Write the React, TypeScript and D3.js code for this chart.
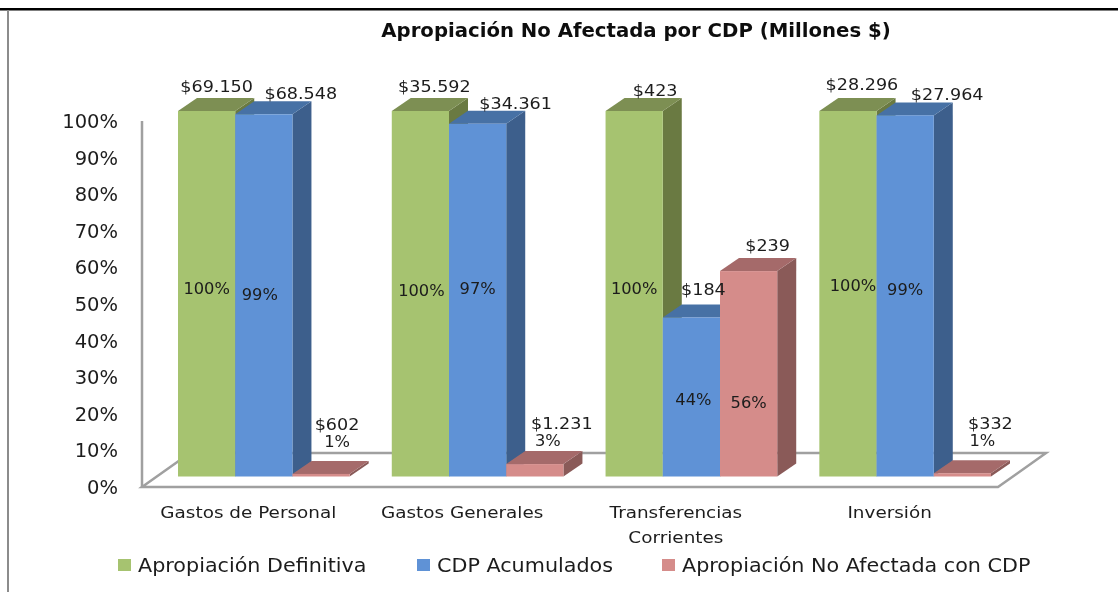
import React from "react";
import * as d3 from "d3";

const categories = ["Gastos de Personal", "Gastos Generales", "Transferencias Corrientes", "Inversión"];
const seriesNames = ["Apropiación Definitiva", "CDP Acumulados", "Apropiación No Afectada con CDP"];
const definitiva = [100, 100, 100, 100];
const acumulados = [99.1, 96.5, 43.5, 98.8];
const noAfectada = [0.7, 3.4, 56.2, 0.9];
const moneyLabels = [
  ["$69.150", "$68.548", "$602"],
  ["$35.592", "$34.361", "$1.231"],
  ["$423", "$184", "$239"],
  ["$28.296", "$27.964", "$332"],
];
const percentLabels = [
  ["100%", "99%", "1%"],
  ["100%", "97%", "3%"],
  ["100%", "44%", "56%"],
  ["100%", "99%", "1%"],
];
const tickValues = [0, 10, 20, 30, 40, 50, 60, 70, 80, 90, 100];

const width = 1118;
const height = 592;
const font = "'DejaVu Sans', sans-serif";
const ink = "#1c1c1c";

// face, top, side
const colors = [
  ["#a6c36f", "#7d8f52", "#6b7a42"],
  ["#5f92d6", "#4671a5", "#3c5f8c"],
  ["#d58c8a", "#a56b6b", "#8a5a59"],
];
const depthX = 19;
const depthY = 13;

const series = [definitiva, acumulados, noAfectada];

const x0 = d3.scaleBand<number>().domain(d3.range(categories.length)).range([178, 991]).paddingInner(0.197);
const x1 = d3.scaleBand<number>().domain(d3.range(series.length)).range([0, x0.bandwidth()]);
const y = d3.scaleLinear().domain([0, 100]).range([476.5, 111]);
const yAxis = d3.scaleLinear().domain([0, 100]).range([487, 121]);

// the labels were dragged by hand in the original: x shift from the bar centre, and baseline
const moneyShift = [
  [10, 37, 16],
  [14, 38, 27],
  [21, 12, 19],
  [14, 42, 28],
];
const moneyY = [
  [92, 99, 430],
  [92, 109, 429],
  [96, 295, 251],
  [90, 100, 429],
];
const percentShift = [
  [0, -4, 16],
  [1, 0, 13],
  [0, 2, 0],
  [5, 0, 20],
];
const percentY = [
  [294, 300, 447],
  [296, 294, 446],
  [294, 405, 408],
  [291, 295, 446],
];

// the source picture was stretched sideways, so text gets a small x scale
function Label({ x, y: ty, size, stretch, anchor, children }: any) {
  return (
    <text
      transform={`translate(${x},${ty}) scale(${stretch},1)`}
      textAnchor={anchor}
      fontSize={size}
      fill={ink}
    >
      {children}
    </text>
  );
}

function Bar({ g, s }: { g: number; s: number }) {
  const left = x0(g)! + x1(s)!;
  const w = x1.bandwidth();
  const top = y(series[s][g]);
  const bottom = y(0);
  const line = d3.line();
  const [face, topColor, side] = colors[s];
  return (
    <g>
      <path
        d={line([[left + w, top], [left + w + depthX, top - depthY], [left + w + depthX, bottom - depthY], [left + w, bottom]])!}
        fill={side}
      />
      <path
        d={line([[left, top], [left + depthX, top - depthY], [left + w + depthX, top - depthY], [left + w, top]])!}
        fill={topColor}
      />
      <rect x={left} y={top} width={w} height={bottom - top} fill={face} />
    </g>
  );
}

export default function App() {
  const floor = d3.line()([[142, 487], [998, 487], [1046, 453], [190, 453]])! + "Z";
  const legendX = [118, 417, 662];

  return (
    <svg
      width={width}
      height={height}
      style={{ position: "fixed", left: 0, top: 0, background: "#fff" }}
      fontFamily={font}
    >
      <defs>
        <filter id="soft" x="0" y="0" width="100%" height="100%">
          <feGaussianBlur stdDeviation="0.4" />
        </filter>
      </defs>
      <g filter="url(#soft)">
        {/* frame bits cropped from the slide */}
        <rect x={0} y={8} width={width} height={2.5} fill="#000" />
        <rect x={7} y={10} width={2} height={height - 10} fill="#8c8c8c" />

        <text x={636} y={37} textAnchor="middle" fontSize={19.7} fontWeight="bold" fill="#111">
          Apropiación No Afectada por CDP (Millones $)
        </text>

        {/* walls */}
        <path d={floor} fill="#fff" stroke="#a0a0a0" strokeWidth={2.5} />
        <line x1={142} x2={142} y1={yAxis(100)} y2={yAxis(0)} stroke="#a0a0a0" strokeWidth={2.5} />

        {tickValues.map((t) => (
          <Label key={t} x={118} y={yAxis(t) + 7} size={19.5} stretch={1} anchor="end">
            {t}%
          </Label>
        ))}

        {categories.map((_, g) => series.map((_, s) => <Bar key={`${g}-${s}`} g={g} s={s} />))}

        {/* money labels */}
        {categories.map((_, g) =>
          series.map((_, s) => (
            <Label
              key={`m${g}-${s}`}
              x={x0(g)! + x1(s)! + x1.bandwidth() / 2 + moneyShift[g][s]}
              y={moneyY[g][s]}
              size={16}
              stretch={1.1}
              anchor="middle"
            >
              {moneyLabels[g][s]}
            </Label>
          ))
        )}

        {/* percent labels */}
        {categories.map((_, g) =>
          series.map((_, s) => (
            <Label
              key={`p${g}-${s}`}
              x={x0(g)! + x1(s)! + x1.bandwidth() / 2 + percentShift[g][s]}
              y={percentY[g][s]}
              size={15.5}
              stretch={1.05}
              anchor="middle"
            >
              {percentLabels[g][s]}
            </Label>
          ))
        )}

        {/* category labels */}
        {categories.map((c, g) => {
          const cx = x0(g)! + x0.bandwidth() / 2 - 15.5;
          const lines = c === "Transferencias Corrientes" ? c.split(" ") : [c];
          return lines.map((l, i) => (
            <Label key={l} x={cx} y={517.5 + i * 25} size={16.5} stretch={1.115} anchor="middle">
              {l}
            </Label>
          ));
        })}

        {/* legend */}
        {seriesNames.map((n, i) => (
          <g key={n}>
            <rect x={legendX[i]} y={559} width={13} height={12} fill={colors[i][0]} />
            <Label x={legendX[i] + 20} y={572} size={19} stretch={1.09} anchor="start">
              {n}
            </Label>
          </g>
        ))}
      </g>
    </svg>
  );
}
